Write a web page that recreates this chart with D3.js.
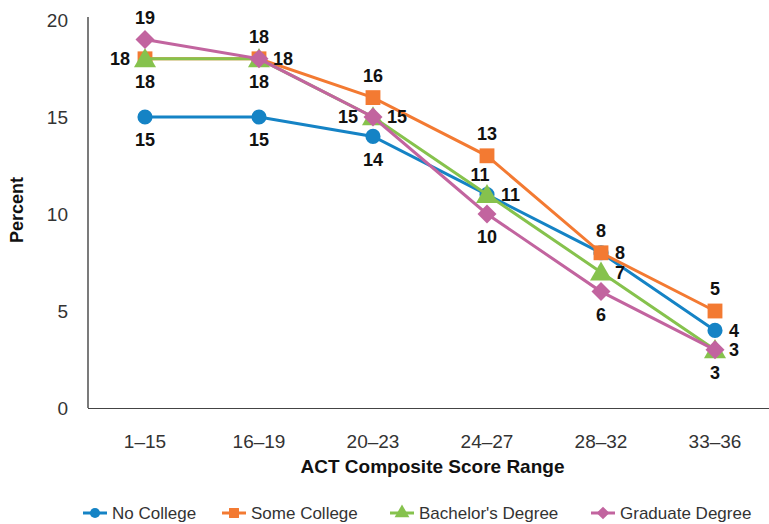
<!DOCTYPE html>
<html><head><meta charset="utf-8">
<script src="https://cdn.jsdelivr.net/npm/d3@7"></script>
<style>body{margin:0;background:#fff}svg{display:block}</style>
</head><body><svg id="c" width="769" height="524"></svg>
<script>
const categories = ["1\u201315","16\u201319","20\u201323","24\u201327","28\u201332","33\u201336"];
const seriesNames = ["No College","Some College","Bachelor's Degree","Graduate Degree"];
const noCollege = [15,15,14,11,8,4];
const someCollege = [18,18,16,13,8,5];
const bachelors = [18,18,15,11,7,3];
const graduate = [19,18,15,10,6,3];
const yTicks = [0,5,10,15,20];
// label placement per point
const labelPos = [
  ["below","below","below","aboveleft","right","right"],
  ["left","above","above","above","above","above"],
  ["below","below","left","right","right","below"],
  ["above","right","right","below","below","right"]
];
const colors = ["#1583c5","#f37a32","#86c24d","#c2649f"];
const shapes = [d3.symbolCircle, d3.symbolSquare, d3.symbolTriangle, d3.symbolSquare];
const sizes = [180, 220, 210, 180];
const rot = [0,0,0,45];

const seriesVals = [noCollege, someCollege, bachelors, graduate];
const svg = d3.select("#c");
const L=88, R=772, T=20, B=408;
const x = d3.scalePoint().domain(categories).range([L,R]).padding(0.5);
const y = d3.scaleLinear().domain([0,20]).range([B,T]);
const font = "'Liberation Sans', Arial, sans-serif";

// axes
svg.append("line").attr("x1",L).attr("x2",L).attr("y1",T-3).attr("y2",B).attr("stroke","#222").attr("stroke-width",1.2);
svg.append("line").attr("x1",L).attr("x2",769).attr("y1",B+0.5).attr("y2",B+0.5).attr("stroke","#444").attr("stroke-width",1.2);
svg.selectAll(".yt").data(yTicks).enter().append("text")
  .attr("x",L-20).attr("y",d=>y(d)).attr("dy","0.35em").attr("text-anchor","end")
  .attr("font-family",font).attr("font-size",19).attr("fill","#333").text(d=>d);
svg.selectAll(".xt").data(categories).enter().append("text")
  .attr("x",d=>x(d)).attr("y",B+33).attr("dy","0.35em").attr("text-anchor","middle")
  .attr("font-family",font).attr("font-size",19).attr("fill","#333").text(d=>d);
svg.append("text").attr("x",(L+769)/2+4).attr("y",466).attr("dy","0.35em").attr("text-anchor","middle")
  .attr("font-family",font).attr("font-size",19).attr("font-weight","bold").attr("fill","#111").text("ACT Composite Score Range");
svg.append("text").attr("transform","translate(17,210) rotate(-90)").attr("dy","0.35em").attr("text-anchor","middle")
  .attr("font-family",font).attr("font-size",18).attr("font-weight","bold").attr("fill","#111").text("Percent");

const line = d3.line().x((d,i)=>x(categories[i])).y(d=>y(d));
seriesVals.forEach((vals,s)=>{
  const g = svg.append("g");
  g.append("path").attr("d",line(vals)).attr("fill","none").attr("stroke",colors[s]).attr("stroke-width",3);
  g.selectAll("path.m").data(vals).enter().append("path").attr("class","m")
    .attr("d",d3.symbol().type(shapes[s]).size(sizes[s]))
    .attr("transform",(d,i)=>`translate(${x(categories[i])},${y(d)+(s===2?2:0)}) rotate(${rot[s]})`)
    .attr("fill",colors[s]);
});
// labels
seriesVals.forEach((vals,s)=>{
  vals.forEach((v,i)=>{
    const p = labelPos[s][i];
    let dx=0, dy=0, anchor="middle";
    if(p==="above") dy=-22;
    if(p==="aboveleft"){dy=-20; dx=-7;}
    if(p==="below") dy=23;
    if(p==="left"){dx=-15; anchor="end";}
    if(p==="right"){dx=14; anchor="start";}
    svg.append("text").attr("x",x(categories[i])+dx).attr("y",y(v)+dy).attr("dy","0.35em")
      .attr("text-anchor",anchor).attr("font-family",font).attr("font-size",18).attr("font-weight","bold")
      .attr("fill","#111").text(v);
  });
});
// legend
const legX = [95,234,402,603];
seriesNames.forEach((n,s)=>{
  const g = svg.append("g").attr("transform",`translate(${legX[s]},513)`);
  g.append("line").attr("x1",-12).attr("x2",12).attr("stroke",colors[s]).attr("stroke-width",3);
  g.append("path").attr("d",d3.symbol().type(shapes[s]).size(sizes[s]*0.45)).attr("transform",`rotate(${rot[s]})`).attr("fill",colors[s]);
  g.append("text").attr("x",17).attr("dy","0.35em").attr("font-family",font).attr("font-size",17).attr("fill","#333").text(n);
});
</script></body></html>
